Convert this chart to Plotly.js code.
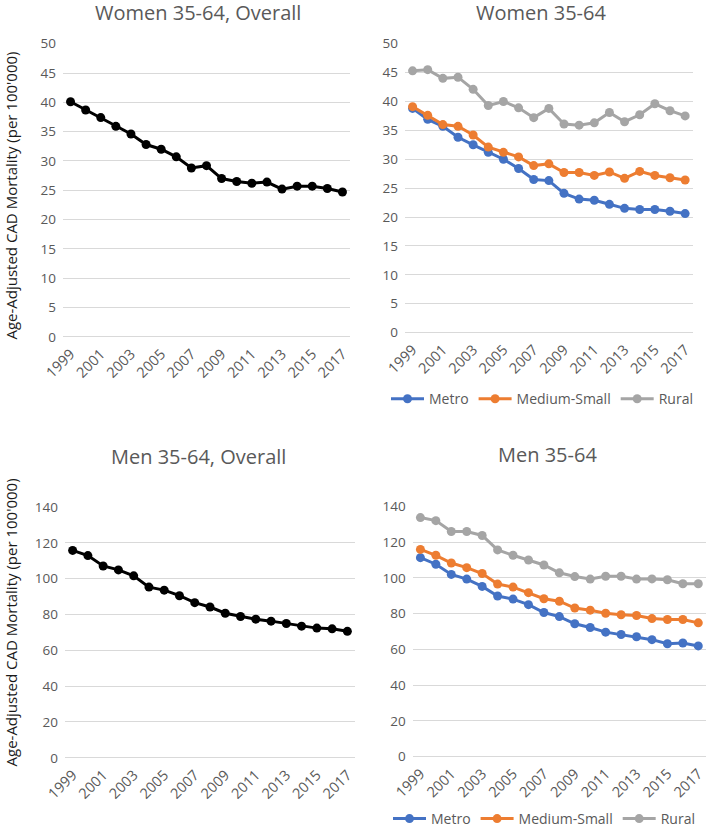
<!DOCTYPE html>
<html>
<head>
<meta charset="utf-8">
<script src="https://cdn.plot.ly/plotly-3.0.1.min.js"></script>
<style>
html,body{margin:0;padding:0;background:#fff;}
#chart{width:709px;height:835px;}
</style>
</head>
<body>
<div id="chart"></div>
<script>
const years = [1999,2000,2001,2002,2003,2004,2005,2006,2007,2008,2009,2010,2011,2012,2013,2014,2015,2016,2017];

const womenOverall = [40.1,38.7,37.4,35.9,34.6,32.8,32.0,30.7,28.8,29.2,27.0,26.5,26.2,26.4,25.2,25.7,25.7,25.3,24.7];
const womenMetro = [38.8,36.9,35.7,33.8,32.5,31.2,30.0,28.4,26.5,26.3,24.1,23.1,22.9,22.2,21.5,21.3,21.3,21.0,20.6];
const womenMediumSmall = [39.1,37.6,36.0,35.7,34.2,32.1,31.2,30.4,28.9,29.2,27.7,27.7,27.2,27.8,26.7,27.9,27.2,26.8,26.4];
const womenRural = [45.3,45.5,44.0,44.2,42.1,39.3,40.0,38.9,37.2,38.8,36.1,35.9,36.3,38.1,36.5,37.7,39.6,38.4,37.5];

const menOverall = [115.8,112.9,107.1,104.9,101.6,95.3,93.6,90.5,86.6,84.2,80.7,78.9,77.4,76.3,75.0,73.5,72.4,72.0,70.6];
const menMetro = [111.3,107.6,101.9,99.3,95.2,89.8,88.1,85.0,80.6,78.3,74.3,72.2,69.6,68.3,67.0,65.4,63.1,63.5,61.9];
const menMediumSmall = [115.9,112.6,108.3,105.7,102.4,96.5,94.8,91.7,88.3,86.9,83.1,81.9,80.2,79.3,78.9,77.2,76.7,76.7,74.8];
const menRural = [133.7,132.0,125.9,125.9,123.7,115.6,112.6,110.0,107.2,102.8,100.7,99.3,100.9,100.9,99.3,99.4,98.9,96.7,96.7];

const seriesNames = ['Metro','Medium-Small','Rural'];
const titles = ['Women 35-64, Overall','Women 35-64','Men 35-64, Overall','Men 35-64'];
const yTitle = "Age-Adjusted CAD Mortality (per 100'000)";

const FONT = 'Open Sans, sans-serif';
const GRAY = '#595959';
const colors = {'Metro':'#4472C4','Medium-Small':'#ED7D31','Rural':'#A5A5A5'};

function line(y, name, color, xa, ya, legend, show) {
  return {
    x: years, y: y, name: name, type: 'scatter', mode: 'lines+markers',
    xaxis: xa, yaxis: ya, legend: legend, showlegend: show,
    line: {color: color, width: 3},
    marker: {color: color, size: 9},
    hoverinfo: 'x+y'
  };
}

const data = [
  line(womenOverall, 'Overall', '#000000', 'x', 'y', 'legend', false),
  line(womenMetro, seriesNames[0], colors['Metro'], 'x2', 'y2', 'legend', true),
  line(womenMediumSmall, seriesNames[1], colors['Medium-Small'], 'x2', 'y2', 'legend', true),
  line(womenRural, seriesNames[2], colors['Rural'], 'x2', 'y2', 'legend', true),
  line(menOverall, 'Overall', '#000000', 'x3', 'y3', 'legend2', false),
  line(menMetro, seriesNames[0], colors['Metro'], 'x4', 'y4', 'legend2', true),
  line(menMediumSmall, seriesNames[1], colors['Medium-Small'], 'x4', 'y4', 'legend2', true),
  line(menRural, seriesNames[2], colors['Rural'], 'x4', 'y4', 'legend2', true)
];

const W = 709, H = 835;
function px(a,b){ return [a/W, b/W]; }
function py(top,bottom){ return [1-bottom/H, 1-top/H]; }

function xax(domain, anchor) {
  return {
    domain: domain, anchor: anchor, range: [1998.5, 2017.5],
    tick0: 1999, dtick: 2, tickangle: -45, showgrid: false, zeroline: false,
    showline: false, ticks: '', ticklabelstandoff: 5,
    tickfont: {family: FONT, size: 14.5, color: GRAY}
  };
}
function yax(domain, anchor, range, dtick) {
  return {
    domain: domain, anchor: anchor, range: range, dtick: dtick, tick0: 0,
    showgrid: true, gridcolor: '#d9d9d9', gridwidth: 1,
    zeroline: true, zerolinecolor: '#d9d9d9', zerolinewidth: 1,
    showline: false, ticks: '', ticklabelstandoff: 6,
    tickfont: {family: FONT, size: 13.5, color: GRAY}
  };
}

const layout = {
  width: W, height: H,
  margin: {l: 0, r: 0, t: 0, b: 0},
  paper_bgcolor: '#ffffff', plot_bgcolor: '#ffffff',
  font: {family: FONT, color: GRAY},
  showlegend: true,
  xaxis: xax(px(63,350), 'y'),
  yaxis: yax(py(44,339.3), 'x', [0,50], 5),
  xaxis2: xax(px(405,692.7), 'y2'),
  yaxis2: yax(py(44,335), 'x2', [0,50], 5),
  xaxis3: xax(px(65,355), 'y3'),
  yaxis3: yax(py(510.7,763.3), 'x3', [0,140], 20),
  xaxis4: xax(px(412.7,706), 'y4'),
  yaxis4: yax(py(510,762), 'x4', [0,140], 20),
  legend: {
    orientation: 'h', x: 542/W, xanchor: 'center', y: 1-402/H, yanchor: 'middle',
    font: {family: FONT, size: 14, color: GRAY}, itemwidth: 33, bgcolor: 'rgba(0,0,0,0)'
  },
  legend2: {
    orientation: 'h', x: 544/W, xanchor: 'center', y: 1-825/H, yanchor: 'middle',
    font: {family: FONT, size: 14, color: GRAY}, itemwidth: 33, bgcolor: 'rgba(0,0,0,0)'
  },
  annotations: [
    {text: titles[0], x: 198/W, y: 1-13/H, xref: 'paper', yref: 'paper', showarrow: false, xanchor: 'center', yanchor: 'middle', font: {family: FONT, size: 20, color: GRAY}},
    {text: titles[1], x: 541/W, y: 1-13/H, xref: 'paper', yref: 'paper', showarrow: false, xanchor: 'center', yanchor: 'middle', font: {family: FONT, size: 20, color: GRAY}},
    {text: titles[2], x: 198/W, y: 1-460/H, xref: 'paper', yref: 'paper', showarrow: false, xanchor: 'center', yanchor: 'middle', font: {family: FONT, size: 20, color: GRAY}},
    {text: titles[3], x: 547/W, y: 1-458/H, xref: 'paper', yref: 'paper', showarrow: false, xanchor: 'center', yanchor: 'middle', font: {family: FONT, size: 20, color: GRAY}},
    {text: yTitle, x: 11/W, y: 1-197/H, xref: 'paper', yref: 'paper', showarrow: false, textangle: -90, xanchor: 'center', yanchor: 'middle', font: {family: FONT, size: 15, color: '#1a1a1a'}},
    {text: yTitle, x: 11/W, y: 1-627/H, xref: 'paper', yref: 'paper', showarrow: false, textangle: -90, xanchor: 'center', yanchor: 'middle', font: {family: FONT, size: 15, color: '#1a1a1a'}}
  ]
};

Plotly.newPlot('chart', data, layout, {staticPlot: true, displayModeBar: false});
</script>
</body>
</html>
